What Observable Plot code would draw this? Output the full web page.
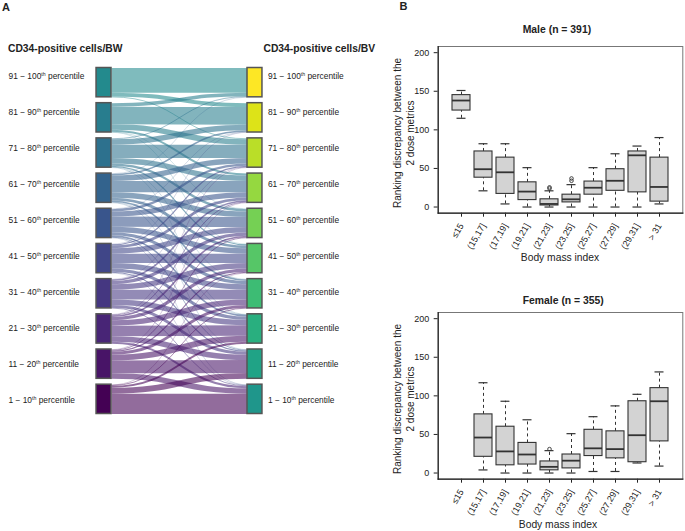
<!DOCTYPE html>
<html><head><meta charset="utf-8">
<script src="https://cdn.jsdelivr.net/npm/d3@7"></script>
<script src="https://cdn.jsdelivr.net/npm/@observablehq/plot@0.6"></script>
<style>
body{margin:0;background:#fff;}
#root{position:relative;width:685px;height:531px;font-family:"Liberation Sans",Arial,sans-serif;overflow:hidden;}
#root > svg{position:absolute;}
</style></head><body><div id="root"></div>
<script>
// ---------- Panel A data ----------
const deciles = ["91 − 100th percentile","81 − 90th percentile","71 − 80th percentile","61 − 70th percentile",
  "51 − 60th percentile","41 − 50th percentile","31 − 40th percentile","21 − 30th percentile",
  "11 − 20th percentile","1 − 10th percentile"];
// rows: CD34/BW decile (top → bottom), columns: CD34/BV decile (top → bottom)
const flows = [
  [63,10, 2, 0, 0, 0, 0, 0, 0, 0],
  [ 9,45,14, 5, 1, 1, 0, 0, 0, 0],
  [ 2,14,34,14, 6, 3, 1, 1, 0, 0],
  [ 1, 4,14,29,14, 7, 4, 1, 1, 0],
  [ 0, 1, 6,13,26,14, 8, 4, 2, 1],
  [ 0, 1, 3, 7,14,24,14, 8, 3, 1],
  [ 0, 0, 1, 4, 8,14,25,14, 7, 2],
  [ 0, 0, 1, 2, 4, 8,14,27,14, 5],
  [ 0, 0, 0, 1, 2, 3, 7,15,33,14],
  [ 0, 0, 0, 0, 0, 1, 2, 5,15,52]
];
const stages = ["CD34-positive cells/BW","CD34-positive cells/BV"];

// ---------- Panel B data ----------
const bmiCats = ["≤15","(15,17]","(17,19]","(19,21]","(21,23]","(23,25]","(25,27]","(27,29]","(29,31]","> 31"];
const maleLo  = [115,21, 4, 0, 0, 0, 0, 0, 0, 4];
const maleQ1  = [125,38,17, 9, 2, 6,16,21,19, 7];
const maleMed = [138,49,45,20, 4,10,25,34,67,26];
const maleQ3  = [145,72,64,32,10,16,33,49,72,64];
const maleHi  = [151,82,82,51,21,29,51,69,79,90];
const maleOutCat = ["(21,23]","(21,23]","(23,25]","(23,25]"];
const maleOutVal = [24,25.5,34,37];
const femLo  = [null, 4, 0, 0, 0,  0, 2, 2,13, 9];
const femQ1  = [null,21,10,11, 3.5,6,22,19,14,41];
const femMed = [null,46,28,24, 8, 16,32,31,49,93];
const femQ3  = [null,76,60,39,15, 24,56,54,93,110];
const femHi  = [null,117,93,69,29,51,73,87,102,131];
const femOutCat = ["(21,23]"];
const femOutVal = [31];

const root = document.getElementById("root");
const FONT = "Liberation Sans, Arial, sans-serif";

// ---------- Panel A: alluvial ----------
const n = deciles.length;
const gap = 15;
const rowSums = flows.map(r => d3.sum(r));
const colSums = flows[0].map((_, j) => d3.sum(flows, r => r[j]));
function tops(sums){ const t=[]; let c=0; sums.forEach(s=>{t.push(c); c+=s+gap;}); return t; }
const leftTop = tops(rowSums), rightTop = tops(colSums);
const yMax = d3.max([leftTop[n-1]+rowSums[n-1], rightTop[n-1]+colSums[n-1]]);
const yRng = [67.5, 413.5];
const k = (yRng[1]-yRng[0]) / yMax;
const nodeW = 0.11;

const colLeft = i => d3.interpolateViridis((n-1-i)/(2*n-1));
const colRight = i => d3.interpolateViridis((2*n-1-i)/(2*n-1));

const nodes = [];
for (let i=0;i<n;i++){
  // label offset (px) from node centre, converted to data units
  const lab = (-6 + 0.79*i)/k;
  nodes.push({stage:0, i, y1:leftTop[i], y2:leftTop[i]+rowSums[i], ly:leftTop[i]+rowSums[i]/2+lab, fill:colLeft(i), label:deciles[i]});
  nodes.push({stage:1, i, y1:rightTop[i], y2:rightTop[i]+colSums[i], ly:rightTop[i]+colSums[i]/2+lab, fill:colRight(i), label:deciles[i]});
}
const links = [];
const tgtOff = new Array(n).fill(0);
for (let i=0;i<n;i++){
  let so = 0;
  for (let j=0;j<n;j++){
    const v = flows[i][j];
    if (v>0){
      links.push({ys: leftTop[i]+so+v/2, yt: rightTop[j]+tgtOff[j]+v/2, v, color: colLeft(i)});
    }
    so += v; tgtOff[j] += v;
  }
}

const plotA = Plot.plot({
  width: 400, height: 531, margin: 0,
  style: {fontFamily: FONT, background: "transparent", color: "#222", overflow: "visible"},
  x: {domain: [0,1], range: [111, 247], axis: null},
  y: {domain: [0, yMax], range: yRng, axis: null},
  marks: [
    Plot.link(links, {x1: 0, x2: 1, y1: "ys", y2: "yt", curve: "bump-x",
      stroke: "color", strokeWidth: d => d.v*k, strokeOpacity: 0.58}),
    Plot.rect(nodes, {x1: d => d.stage===0 ? -nodeW : 1, x2: d => d.stage===0 ? 0 : 1+nodeW,
      y1: "y1", y2: "y2", fill: "fill", stroke: "#555", strokeWidth: 1.5}),
    Plot.text(nodes.filter(d=>d.stage===0), {frameAnchor: "left", y: "ly", dx: 8,
      text: "label", textAnchor: "start", fontSize: 8.4, fill: "#222"}),
    Plot.text(nodes.filter(d=>d.stage===1), {x: 1+nodeW, y: "ly", dx: 5.5,
      text: "label", textAnchor: "start", fontSize: 8.4, fill: "#222"})
  ]
});
// superscript "th"
d3.select(plotA).selectAll("text").each(function(){
  const t = this.textContent;
  const m = t.match(/^(.*\d)th( percentile)$/);
  if (m){
    const s = d3.select(this); s.text(null);
    s.append("tspan").text(m[1]);
    s.append("tspan").text("th").attr("font-size", 5.2).attr("dy", -3.3);
    s.append("tspan").text(m[2]).attr("dy", 3.3);
  }
});
plotA.style.left = "0px"; plotA.style.top = "0px";
root.appendChild(plotA);

// ---------- Panel B: box plots ----------
function boxPanel(lo,q1,med,q3,hi,outCat,outVal,top){
  const rows = bmiCats.map((c,i)=>({cat:c, lo:lo[i], q1:q1[i], med:med[i], q3:q3[i], hi:hi[i]})).filter(d=>d.med!=null);
  const outl = outCat.map((c,i)=>({cat:c, v:outVal[i]}));
  const p = Plot.plot({
    width: 345, height: 265, marginLeft: 97.7, marginRight: 2.7, marginTop: 46, marginBottom: 52.3,
    style: {fontFamily: FONT, fontSize: "9px", color: "#222", background: "transparent"},
    x: {domain: bmiCats, paddingInner: 0.2, paddingOuter: 0.55, tickRotate: -60, tickSize: 4, label: null},
    y: {domain: [-8, 208], ticks: [0,50,100,150,200], tickSize: 4, label: null},
    marks: [
      Plot.frame({stroke: "#777"}),
      Plot.ruleX(rows, {x: "cat", y1: "q3", y2: "hi", stroke: "#333", strokeDasharray: "3,3"}),
      Plot.ruleX(rows, {x: "cat", y1: "lo", y2: "q1", stroke: "#333", strokeDasharray: "3,3"}),
      Plot.tickY(rows, {x: "cat", y: "hi", insetLeft: 4.5, insetRight: 4.5, stroke: "#333", strokeWidth: 1.2}),
      Plot.tickY(rows, {x: "cat", y: "lo", insetLeft: 4.5, insetRight: 4.5, stroke: "#333", strokeWidth: 1.2}),
      Plot.barY(rows, {x: "cat", y1: "q1", y2: "q3", fill: "#d3d3d3", stroke: "#333", strokeWidth: 1.1}),
      Plot.tickY(rows, {x: "cat", y: "med", stroke: "#333", strokeWidth: 1.8}),
      Plot.dot(outl, {x: "cat", y: "v", r: 1.8, stroke: "#333", strokeWidth: 0.9, fill: "none"}),
      Plot.frame({anchor: "left", stroke: "#222", strokeWidth: 1.2}),
      Plot.frame({anchor: "bottom", stroke: "#222", strokeWidth: 1.2})
    ]
  });
  p.style.left = "340px"; p.style.top = top + "px";
  root.appendChild(p);
}
boxPanel(maleLo,maleQ1,maleMed,maleQ3,maleHi,maleOutCat,maleOutVal,0);
boxPanel(femLo,femQ1,femMed,femQ3,femHi,femOutCat,femOutVal,265.7);

// ---------- Text annotations ----------
const ov = d3.create("svg").attr("width",685).attr("height",531)
  .style("left","0px").style("top","0px").style("pointer-events","none")
  .attr("font-family", FONT).attr("fill", "#222");
function txt(x,y,s,opt={}){
  const t = ov.append("text").attr("x",x).attr("y",y).text(s)
    .attr("font-size", opt.size||10).attr("font-weight", opt.bold?"bold":null)
    .attr("text-anchor", opt.anchor||"start");
  if (opt.rotate) t.attr("transform", `rotate(${opt.rotate},${x},${y})`).attr("dominant-baseline","central");
  return t;
}
txt(2, 11, "A", {size: 11, bold: true});
txt(399.5, 10, "B", {size: 11, bold: true});
txt(8, 51.5, stages[0], {size: 10.3, bold: true});
txt(263.5, 51.5, stages[1], {size: 10.3, bold: true});
txt(522.7, 33, "Male (n = 391)", {size: 10.4, bold: true});
txt(522.7, 303.5, "Female (n = 355)", {size: 10.4, bold: true});
[133, 399].forEach(cy => {
  txt(397, cy, "Ranking discrepancy between the", {size: 10, anchor: "middle", rotate: -90});
  txt(410.5, cy, "2 dose metrics", {size: 10, anchor: "middle", rotate: -90});
});
txt(560, 261, "Body mass index", {size: 10.3, anchor: "middle"});
txt(558, 527.5, "Body mass index", {size: 10.3, anchor: "middle"});
root.appendChild(ov.node());
</script></body></html>
